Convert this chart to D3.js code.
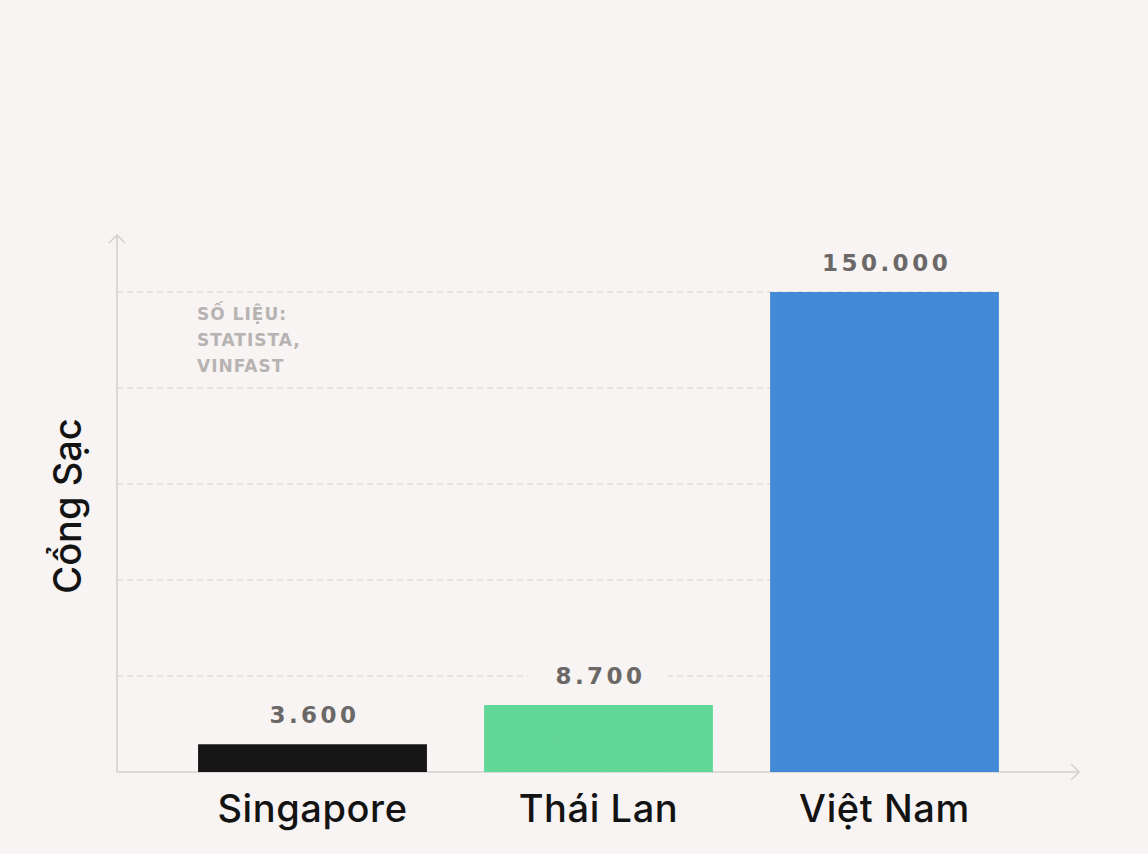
<!DOCTYPE html>
<html lang="vi">
<head>
    <meta charset="UTF-8">
    <title>Cổng Sạc</title>
    <script src="https://d3js.org/d3.v7.min.js"></script>
    <style>
        body { margin: 0; background: #f7f4f3; }
    </style>
</head>
<body>
    <div id="chart"></div>

    <script>
        // data
        const countries = ["Singapore", "Thái Lan", "Việt Nam"];
        const ports = [3600, 8700, 150000];
        const valueLabels = ["3.600", "8.700", "150.000"];
        const barColors = ["#1b1a1a", "#64da99", "#458cdb"];
        const sourceLines = ["SỐ LIỆU:", "STATISTA,", "VINFAST"];
        const gridSteps = [1, 2, 3, 4, 5];

        const W = 1148, H = 854;
        const x0 = 117, base = 772, plotTop = 292;

        const svg = d3.select("#chart").append("svg")
            .attr("width", W)
            .attr("height", H);

        svg.append("rect").attr("width", W).attr("height", H).attr("fill", "#f7f4f3");

        // grain for bars
        const defs = svg.append("defs");
        const f = defs.append("filter").attr("id", "grain")
            .attr("x", 0).attr("y", 0).attr("width", 1).attr("height", 1);
        f.append("feTurbulence").attr("type", "fractalNoise")
            .attr("baseFrequency", 0.9).attr("numOctaves", 2).attr("seed", 3).attr("result", "n");
        f.append("feColorMatrix").attr("in", "n").attr("type", "matrix")
            .attr("values", "0 0 0 0 0  0 0 0 0 0  0 0 0 0 0  0 0 0 0.06 0").attr("result", "na");
        f.append("feComposite").attr("in", "na").attr("in2", "SourceGraphic").attr("operator", "in").attr("result", "nc");
        const m = f.append("feMerge");
        m.append("feMergeNode").attr("in", "SourceGraphic");
        m.append("feMergeNode").attr("in", "nc");

        // scales (broken value axis, as in the source graphic)
        const x = d3.scaleBand().domain(countries).range([169.5, 1027.5])
            .paddingInner(0.2).paddingOuter(0.1);
        const y = d3.scaleLinear().domain([0, 10000, 150000]).range([base, base - 77, plotTop]);
        const grid = d3.scaleLinear().domain([0, 5]).range([base, plotTop]);

        // dashed gridlines
        svg.append("g").selectAll("line").data(gridSteps).enter()
            .append("line")
            .attr("x1", x0).attr("x2", x(countries[2]) + x.bandwidth())
            .attr("y1", d => grid(d)).attr("y2", d => grid(d))
            .attr("stroke", "#d3cfce")
            .attr("stroke-width", 1.2)
            .attr("stroke-dasharray", "6,4");

        // axes with arrow heads
        const axisColor = "#d5d1d0";
        const ax = svg.append("g").attr("stroke", axisColor).attr("stroke-width", 1.6).attr("fill", "none");
        ax.append("line").attr("x1", x0).attr("y1", base).attr("x2", x0).attr("y2", 235);
        ax.append("path").attr("d", `M${x0 - 8},${243} L${x0},${235} L${x0 + 8},${243}`);
        ax.append("line").attr("x1", x0).attr("y1", base).attr("x2", 1079).attr("y2", base);
        ax.append("path").attr("d", `M${1071},${base - 8} L${1079},${base} L${1071},${base + 8}`);

        // bars
        svg.append("g").selectAll("rect").data(countries).enter()
            .append("rect")
            .attr("x", d => x(d))
            .attr("width", x.bandwidth())
            .attr("y", (d, i) => y(ports[i]))
            .attr("height", (d, i) => base - y(ports[i]))
            .attr("fill", (d, i) => barColors[i])
            .attr("filter", "url(#grain)");

        // value labels with knocked-out background
        const vl = svg.append("g").selectAll("g").data(countries).enter().append("g")
            .attr("transform", (d, i) => `translate(${x(d) + x.bandwidth() / 2},${y(ports[i]) - 21})`);
        vl.append("rect")
            .attr("x", -70).attr("y", -24).attr("width", 140).attr("height", 30)
            .attr("fill", "#f7f4f3");
        vl.append("text")
            .attr("text-anchor", "middle")
            .attr("dx", 2)
            .attr("font-family", "DejaVu Sans")
            .attr("font-weight", "bold")
            .attr("font-size", 23)
            .attr("letter-spacing", 3.5)
            .attr("fill", "#6b6867")
            .text((d, i) => valueLabels[i]);

        // category labels
        svg.append("g").selectAll("text").data(countries).enter()
            .append("text")
            .attr("x", d => x(d) + x.bandwidth() / 2)
            .attr("y", 822)
            .attr("text-anchor", "middle")
            .attr("font-family", "Inter")
            .attr("font-weight", 500)
            .attr("font-size", 38)
            .attr("letter-spacing", 0.6)
            .attr("fill", "#141313")
            .text(d => d);

        // y axis title
        svg.append("text")
            .attr("transform", "translate(81,506) rotate(-90)")
            .attr("text-anchor", "middle")
            .attr("font-family", "Inter")
            .attr("font-weight", 500)
            .attr("font-size", 38)
            .attr("fill", "#141313")
            .text("Cổng Sạc");

        // source note
        svg.append("g").selectAll("text").data(sourceLines).enter()
            .append("text")
            .attr("x", 197)
            .attr("y", (d, i) => 320 + i * 26)
            .attr("font-family", "DejaVu Sans")
            .attr("font-weight", "bold")
            .attr("font-size", 17)
            .attr("letter-spacing", 1)
            .attr("fill", "#b7b3b2")
            .text(d => d);
    </script>
</body>
</html>
